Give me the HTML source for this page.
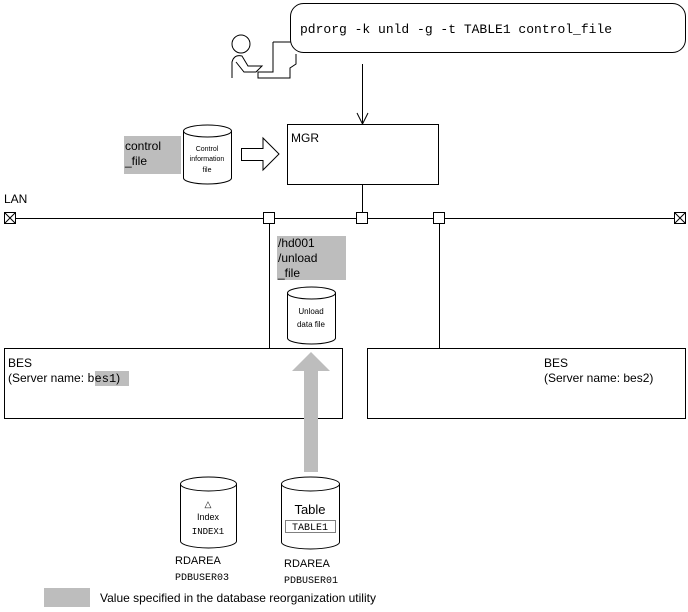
<!DOCTYPE html>
<html><head><style>body{margin:0;background:#fff}svg{display:block}text{font-family:"Liberation Sans",sans-serif;fill:#000}.m{font-family:"Liberation Mono",monospace}</style></head><body>
<svg width="688" height="612" viewBox="0 0 688 612" xmlns="http://www.w3.org/2000/svg">
<g fill="none" stroke="#000" stroke-width="1">
<rect x="290.5" y="3.5" width="395" height="49" rx="13"/>
<text x="300" y="33" class="m" font-size="13" stroke="none">pdrorg -k unld -g -t TABLE1 control_file</text>
<circle cx="241" cy="44" r="9"/>
<path d="M232 78 V62 Q234 54 242 56 L248 66 L262 66 L256 72 L244 72 L236 62"/>
<path d="M273 42 H291 M273 42 V72 H258 L258 78 H290 V68 L296 64 V54"/>
<path d="M362.5 64 V124 M357 113 L362.5 124 L368 113"/>
<rect x="287.5" y="124.5" width="151" height="60"/>
<path d="M362.5 184 V218"/>
<path d="M183.5 131 V178 A24 6 0 0 0 231.5 178 V131 A24 6 0 0 0 183.5 131 A24 6 0 0 0 231.5 131"/>
<path d="M241.5 148.5 H263 V138 L279 154 L263 170 V160.5 H241.5 Z" fill="#fff"/>
<path d="M16 218.5 H674"/>
<rect x="4.5" y="212.5" width="11" height="11"/><path d="M4.5 212.5 L15.5 223.5 M15.5 212.5 L4.5 223.5"/>
<rect x="674.5" y="212.5" width="11" height="11"/><path d="M674.5 212.5 L685.5 223.5 M685.5 212.5 L674.5 223.5"/>
<rect x="263.5" y="212.5" width="11" height="11" fill="#fff"/>
<rect x="356.5" y="212.5" width="11" height="11" fill="#fff"/>
<rect x="433.5" y="212.5" width="11" height="11" fill="#fff"/>
<path d="M269.5 224 V348 M439.5 224 V348"/>
<path d="M287.5 293 V338 A24 6 0 0 0 335.5 338 V293 A24 6 0 0 0 287.5 293 A24 6 0 0 0 335.5 293"/>
<rect x="4.5" y="348.5" width="338" height="70"/>
<rect x="367.5" y="348.5" width="318" height="70"/>
<path d="M180.5 484 V541 A28 7 0 0 0 236.5 541 V484 A28 7 0 0 0 180.5 484 A28 7 0 0 0 236.5 484"/>
<path d="M281.5 484 V542 A29 7 0 0 0 339.5 542 V484 A29 7 0 0 0 281.5 484 A29 7 0 0 0 339.5 484"/>
</g>
<rect x="124" y="136" width="57" height="38" fill="#bdbdbd"/>
<rect x="277" y="236" width="69" height="44" fill="#bdbdbd"/>
<rect x="95" y="371" width="34" height="15" fill="#bdbdbd"/>
<rect x="44" y="588" width="46" height="19" fill="#bdbdbd"/>
<path d="M304 472 V371 H292 L311 352 L330 371 H318 V472 Z" fill="#bdbdbd"/>
<text x="291" y="142" font-size="12">MGR</text>
<text x="125" y="150" font-size="12">control</text>
<text x="125" y="165" font-size="12">_file</text>
<g font-size="7" text-anchor="middle"><text x="207" y="151">Control</text><text x="207" y="161">information</text><text x="207" y="172">file</text></g>
<text x="4" y="203" font-size="12">LAN</text>
<g font-size="12"><text x="278" y="247">/hd001</text><text x="278" y="262">/unload</text><text x="278" y="277">_file</text></g>
<g font-size="8" text-anchor="middle"><text x="311" y="314">Unload</text><text x="311" y="327">data file</text></g>
<text x="8" y="367" font-size="12">BES</text>
<text x="8" y="382" font-size="12">(Server name: <tspan class="m">bes1</tspan>)</text>
<text x="544" y="367" font-size="12">BES</text>
<text x="544" y="382" font-size="12">(Server name: bes2)</text>
<text x="208" y="507" font-size="9" text-anchor="middle">△</text>
<text x="208" y="520" font-size="9" text-anchor="middle">Index</text>
<text x="208" y="534" font-size="9" text-anchor="middle" class="m">INDEX1</text>
<text x="310" y="514" font-size="13" text-anchor="middle">Table</text>
<text x="310" y="530" font-size="10" text-anchor="middle" class="m">TABLE1</text>
<rect x="285.5" y="520.5" width="50" height="12" fill="none" stroke="#000" stroke-dasharray="1,1"/>
<text x="175" y="564" font-size="11">RDAREA</text>
<text x="175" y="580" font-size="10" class="m">PDBUSER03</text>
<text x="284" y="567" font-size="11">RDAREA</text>
<text x="284" y="583" font-size="10" class="m">PDBUSER01</text>
<text x="100" y="602" font-size="12">Value specified in the database reorganization utility</text>
</svg>
</body></html>
